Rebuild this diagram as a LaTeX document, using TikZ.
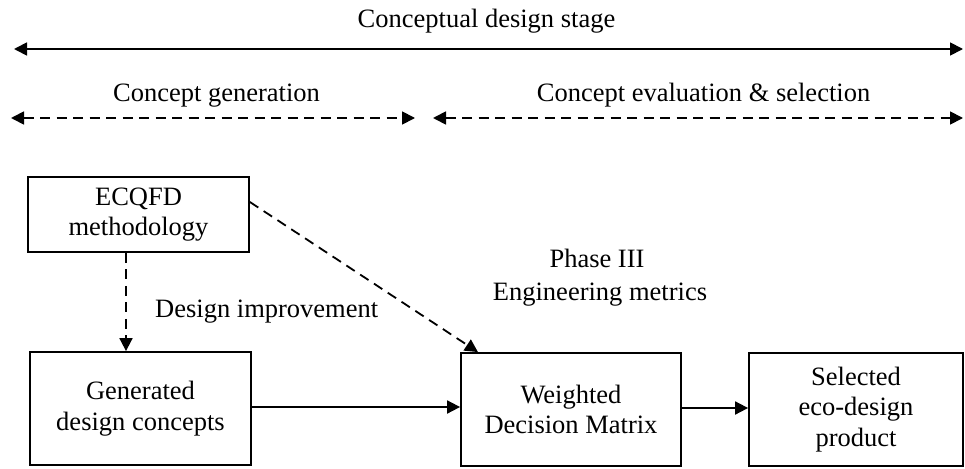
\documentclass[tikz,border=0pt]{standalone}
\usepackage{fontspec}
\setmainfont{Liberation Serif}
\usetikzlibrary{arrows.meta}
\begin{document}
\begin{tikzpicture}[x=1pt,y=-1pt,
  box/.style={draw,line width=1.8pt,align=center,inner sep=0pt,font=\fontsize{26.5}{30.5}\selectfont},
  lbl/.style={align=center,inner sep=0pt,anchor=base,font=\fontsize{26.5}{30}\selectfont},
  conn/.style={line width=1.8pt,-{Triangle[length=13pt,width=13pt]}},
  dconn/.style={conn,dash pattern=on 10pt off 6.5pt},
  dboth/.style={line width=1.8pt,dash pattern=on 10pt off 6.5pt,{Triangle[length=13pt,width=13pt]}-{Triangle[length=13pt,width=13pt]}},
  sboth/.style={line width=1.8pt,{Triangle[length=13pt,width=13pt]}-{Triangle[length=13pt,width=13pt]}}]
\useasboundingbox (0,0) rectangle (965,468);
% top arrows
\coordinate (tl) at (14,49);
\coordinate (tr) at (963,49);
\coordinate (gl) at (11,118);
\coordinate (gr) at (415,118);
\coordinate (el) at (433,118);
\coordinate (er) at (963,118);
\draw[sboth] (tl) -- (tr);
\draw[dboth] (gl) -- (gr);
\draw[dboth] (el) -- (er);
\node[lbl] (tcds) at (486.5,28) {Conceptual design stage};
\node[lbl] (tcg) at (216.5,102) {Concept generation};
\node[lbl] (tces) at (703.5,102) {Concept evaluation \& selection};
% boxes
\node[box,minimum width=221pt,minimum height=75pt] (ecq) at (138.5,214.5) {ECQFD\\methodology};
\node[box,minimum width=221pt,minimum height=113pt] (gen) at (140.5,408.5) {Generated\\design concepts};
\node[box,minimum width=220pt,minimum height=113pt] (wdm) at (571,409.5) {Weighted\\Decision Matrix};
\node[box,minimum width=214pt,minimum height=113pt] (sel) at (856,409.5) {Selected\\eco-design\\product};
% connectors
\draw[dconn] ([xshift=-12.5pt]ecq.south) -- ([xshift=-14.5pt]gen.north);
\draw[dconn] ([yshift=12.5pt]ecq.east) -- ([xshift=-93pt]wdm.north);
\draw[conn] (gen.east |- 0,407) -- (wdm.west |- 0,407);
\draw[conn] (wdm.east |- 0,408) -- (sel.west |- 0,408);
\node[lbl,anchor=base west] (di) at (155,317) {Design improvement};
\node[lbl] (ph) at (597,267) {Phase III};
\node[lbl] (em) at (600,300) {Engineering metrics};
\end{tikzpicture}
\end{document}
